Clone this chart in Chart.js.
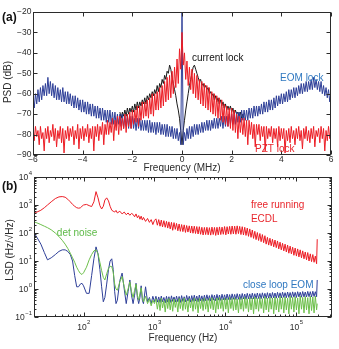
<!DOCTYPE html>
<html>
<head>
<meta charset="utf-8">
<script src="https://cdn.jsdelivr.net/npm/chart.js@4.4.1/dist/chart.umd.min.js"></script>
<style>
  body { margin: 0; background: #fff; }
  #wrap { position: relative; width: 339px; height: 349px; }
  canvas { position: absolute; left: 0; }
  #psd { top: 0; }
  #lsd { top: 170px; }
</style>
</head>
<body>
<div id="wrap">
  <canvas id="psd" width="339" height="178"></canvas>
  <canvas id="lsd" width="339" height="179"></canvas>
</div>
<script>
// ---- panel (a): beat note PSD, dB vs MHz ----
const freqA = [
  -6, -5.95, -5.9, -5.85, -5.8, -5.75, -5.7, -5.65, -5.6, -5.55,
  -5.5, -5.45, -5.4, -5.35, -5.3, -5.25, -5.2, -5.15, -5.1, -5.05,
  -5, -4.95, -4.9, -4.85, -4.8, -4.75, -4.7, -4.65, -4.6, -4.55,
  -4.5, -4.45, -4.4, -4.35, -4.3, -4.25, -4.2, -4.15, -4.1, -4.05,
  -4, -3.95, -3.9, -3.85, -3.8, -3.75, -3.7, -3.65, -3.6, -3.55,
  -3.5, -3.45, -3.4, -3.35, -3.3, -3.25, -3.2, -3.15, -3.1, -3.05,
  -3, -2.95, -2.9, -2.85, -2.8, -2.75, -2.7, -2.65, -2.6, -2.55,
  -2.5, -2.45, -2.4, -2.35, -2.3, -2.25, -2.2, -2.15, -2.1, -2.05,
  -2, -1.95, -1.9, -1.85, -1.8, -1.75, -1.7, -1.65, -1.6, -1.55,
  -1.5, -1.45, -1.4, -1.35, -1.3, -1.25, -1.2, -1.15, -1.1, -1.05,
  -1, -0.95, -0.9, -0.85, -0.8, -0.75, -0.7, -0.65, -0.6, -0.55,
  -0.5, -0.45, -0.4, -0.35, -0.3, -0.25, -0.2, -0.15, -0.1, -0.05,
  0,
  0.05, 0.1, 0.15, 0.2, 0.25, 0.3, 0.35, 0.4, 0.45, 0.5,
  0.55, 0.6, 0.65, 0.7, 0.75, 0.8, 0.85, 0.9, 0.95, 1,
  1.05, 1.1, 1.15, 1.2, 1.25, 1.3, 1.35, 1.4, 1.45, 1.5,
  1.55, 1.6, 1.65, 1.7, 1.75, 1.8, 1.85, 1.9, 1.95, 2,
  2.05, 2.1, 2.15, 2.2, 2.25, 2.3, 2.35, 2.4, 2.45, 2.5,
  2.55, 2.6, 2.65, 2.7, 2.75, 2.8, 2.85, 2.9, 2.95, 3,
  3.05, 3.1, 3.15, 3.2, 3.25, 3.3, 3.35, 3.4, 3.45, 3.5,
  3.55, 3.6, 3.65, 3.7, 3.75, 3.8, 3.85, 3.9, 3.95, 4,
  4.05, 4.1, 4.15, 4.2, 4.25, 4.3, 4.35, 4.4, 4.45, 4.5,
  4.55, 4.6, 4.65, 4.7, 4.75, 4.8, 4.85, 4.9, 4.95, 5,
  5.05, 5.1, 5.15, 5.2, 5.25, 5.3, 5.35, 5.4, 5.45, 5.5,
  5.55, 5.6, 5.65, 5.7, 5.75, 5.8, 5.85, 5.9, 5.95, 6
];
const eomLock = [
  -61, -67, -60, -65, -58, -64, -57, -63, -56, -61,
  -55, -61, -52, -60, -54, -61, -55, -62, -56, -63,
  -57, -63, -58, -64, -57, -64, -59, -65, -59, -65,
  -60, -66, -61, -67, -61, -67, -62, -68, -63, -69,
  -63, -69, -64, -70, -64, -70, -65, -71, -65, -71,
  -66, -72, -66, -72, -67, -73, -67, -73, -68, -74,
  -68, -74, -68, -75, -69, -75, -69, -76, -70, -75,
  -70, -76, -70, -77, -71, -76, -71, -77, -71, -77,
  -71, -77, -72, -78, -72, -77, -72, -78, -73, -78,
  -73, -78, -73, -79, -73, -79, -74, -79, -74, -80,
  -74, -79, -74, -80, -75, -80, -75, -81, -75, -81,
  -76, -81, -76, -82, -77, -82, -77, -83, -79, -85,
  -20,
  -85, -79, -83, -77, -82, -76, -82, -76, -81, -75,
  -80, -75, -80, -75, -79, -74, -79, -74, -78, -73,
  -78, -73, -78, -73, -77, -72, -77, -72, -77, -72,
  -76, -71, -77, -71, -76, -71, -76, -70, -75, -70,
  -75, -70, -75, -69, -74, -69, -74, -68, -73, -68,
  -73, -68, -73, -67, -72, -67, -72, -66, -71, -66,
  -71, -66, -70, -65, -70, -64, -69, -64, -69, -63,
  -68, -63, -68, -62, -67, -61, -66, -61, -65, -60,
  -65, -60, -64, -59, -64, -58, -63, -58, -62, -57,
  -62, -57, -61, -56, -60, -55, -60, -55, -59, -54,
  -59, -54, -58, -53, -58, -52, -57, -53, -58, -54,
  -59, -54, -60, -56, -61, -57, -62, -58, -64, -59
];
const pztLock = [
  -77, -83, -76, -81, -78, -85, -76, -82, -79, -88,
  -77, -82, -76, -84, -78, -81, -75, -83, -77, -86,
  -78, -82, -76, -84, -77, -89, -78, -82, -76, -83,
  -77, -81, -76, -85, -78, -82, -75, -87, -77, -82,
  -76, -83, -77, -81, -75, -84, -77, -82, -76, -88,
  -76, -81, -75, -83, -76, -80, -74, -85, -75, -80,
  -73, -80, -74, -79, -72, -83, -73, -78, -71, -80,
  -71, -78, -72, -77, -70, -79, -70, -76, -69, -77,
  -68, -75, -68, -74, -66, -76, -66, -73, -64, -72,
  -64, -71, -63, -72, -62, -70, -60, -71, -60, -68,
  -59, -68, -57, -67, -56, -66, -54, -64, -52, -63,
  -51, -62, -49, -60, -47, -57, -43, -55, -38, -48,
  -30,
  -46, -40, -53, -44, -56, -47, -58, -48, -60, -50,
  -62, -51, -63, -53, -65, -54, -66, -55, -67, -56,
  -68, -57, -69, -59, -70, -60, -71, -61, -72, -62,
  -73, -63, -74, -65, -75, -66, -76, -67, -77, -67,
  -78, -68, -79, -70, -82, -71, -79, -72, -80, -72,
  -81, -73, -85, -73, -80, -74, -82, -75, -86, -75,
  -80, -75, -83, -76, -81, -76, -88, -76, -82, -77,
  -81, -76, -84, -77, -82, -77, -86, -76, -83, -77,
  -82, -77, -89, -78, -83, -77, -84, -76, -82, -78,
  -85, -77, -82, -76, -83, -78, -87, -77, -82, -76,
  -83, -78, -84, -77, -82, -76, -86, -78, -81, -77,
  -84, -76, -82, -77, -88, -78, -83, -76, -82, -78
];
const currentLock = [
  null, null, null, null, null, null, null, null, null, null,
  null, null, null, null, null, null, null, null, null, null,
  null, null, null, null, null, null, null, null, null, null,
  null, null, null, null, null, null, null, null, null, null,
  null, null, null, null, null, null, null, null, null, null,
  null, null, null, null, null, null, null, null, null, null,
  null, null, null, null, null, null, null, null, null, null,
  -69, -72, -69, -71, -68, -71, -67, -70, -67, -69,
  -66, -69, -65, -68, -64, -67, -64, -66, -63, -65,
  -62, -65, -61, -63, -60, -62, -59, -61, -58, -60,
  -56, -59, -55, -57, -53, -55, -51, -53, -49, -50,
  -46, -48, -52, -55, -58, -61, -65, -68, -72, -78,
  -85,
  -78, -73, -68, -64, -60, -56, -53, -50, -47, -46,
  -48, -50, -52, -54, -53, -56, -55, -57, -56, -58,
  -57, -60, -59, -61, -60, -63, -61, -64, -62, -65,
  -63, -66, -64, -67, -65, -68, -66, -68, -66, -69,
  -67, -70, -68, -70, -69, -71, -69, -72, -70, -72,
  null, null, null, null, null, null, null, null, null, null,
  null, null, null, null, null, null, null, null, null, null,
  null, null, null, null, null, null, null, null, null, null,
  null, null, null, null, null, null, null, null, null, null,
  null, null, null, null, null, null, null, null, null, null,
  null, null, null, null, null, null, null, null, null, null,
  null, null, null, null, null, null, null, null, null, null
];
const ticksAx = [-6, -4, -2, 0, 2, 4, 6];
const ticksAy = [-90, -80, -70, -60, -50, -40, -30, -20];

// ---- panel (b): linewidth spectral density, Hz/sqrt(Hz) vs Hz ----
const freqB = [
  20, 22, 25, 28, 31, 35, 40, 45, 50,
  55, 60, 65, 70, 75, 80, 85, 90, 95, 100,
  110, 120, 130, 140, 150, 160, 170, 180, 190, 200,
  212, 225, 237, 250, 262, 275, 287, 300,
  325, 350, 375, 400, 425, 450, 475, 500,
  525, 550, 575, 600, 625, 650, 675, 700,
  750, 800, 850, 900, 950, 1000,
  1050, 1100, 1150, 1200, 1250, 1300, 1360, 1420, 1480, 1540,
  1600, 1670, 1740, 1810, 1890, 1970, 2050, 2140, 2230, 2320,
  2420, 2520, 2630, 2740, 2850, 2970, 3100, 3230, 3360, 3500,
  3650, 3800, 3960, 4130, 4300, 4480, 4670, 4860, 5070, 5280,
  5500, 5730, 5970, 6220, 6480, 6750, 7030, 7320, 7630, 7950,
  8280, 8630, 8990, 9370, 9760, 10170, 10600, 11040, 11500, 11980,
  12480, 13000, 13550, 14110, 14700, 15320, 15960, 16630, 17320, 18040,
  18800, 19580, 20400, 21250, 22140, 23070, 24030, 25040, 26080, 27170,
  28310, 29490, 30720, 32000, 33340, 34740, 36190, 37700, 39280, 40920,
  42630, 44410, 46270, 48200, 50220, 52320, 54510, 56790, 59160, 61630,
  64210, 66890, 69690, 72600, 75640, 78800, 82090, 85520, 89100, 92820,
  96700, 100700, 104900, 109300, 113900, 118700, 123600, 128800, 134200, 139800,
  145600, 151700, 158100, 164700, 171600, 178700, 186200, 194000, 198000
];
const freeRunning = [
  500, 560, 650, 800, 1000, 1300, 1700, 1950, 2000,
  1900, 1600, 1300, 1050, 900, 800, 770, 790, 900, 1000,
  1050, 950, 880, 1300, 3000, 1800, 950, 720, 900, 1500,
  1800, 1400, 900, 650, 600, 560, 640, 520,
  600, 480, 560, 450, 520, 430, 500, 460,
  380, 480, 350, 420, 310, 400, 290, 360,
  260, 330, 240, 300, 200, 280,
  320, 190, 300, 175, 290, 165, 275, 160, 260, 150,
  250, 140, 240, 125, 235, 135, 220, 120, 210, 115,
  200, 112, 195, 105, 185, 108, 180, 100, 178, 98,
  175, 96, 170, 92, 168, 90, 160, 85, 158, 88,
  160, 86, 155, 84, 162, 88, 158, 82, 160, 86,
  165, 88, 162, 90, 170, 86, 168, 92, 172, 90,
  178, 93, 175, 90, 180, 95, 172, 88, 168, 85,
  160, 82, 150, 76, 140, 70, 128, 64, 115, 58,
  104, 54, 96, 49, 88, 45, 80, 40, 70, 37,
  65, 35, 60, 32, 56, 30, 52, 27, 47, 25,
  43, 23, 40, 21, 37, 19, 34, 18, 31, 16,
  29, 15, 27, 14, 25, 13, 23, 12, 21, 11,
  20, 10, 18, 9.5, 17, 9, 15, 8, 60
];
const detNoise = [
  250, 230, 200, 175, 155, 130, 100, 75, 55,
  40, 28, 19, 13, 9, 6, 4.5, 3.6, 3.3, 3.8,
  6, 11, 17, 23, 25, 18, 9, 4.5, 2.6, 2.1,
  3.5, 5.5, 6.5, 6.3, 4, 1.5, 1.0, 0.9,
  1.8, 2.8, 1.2, 0.6, 1.0, 1.8, 0.8, 0.5,
  0.9, 1.5, 0.6, 0.4, 0.7, 1.1, 0.5, 0.35,
  0.55, 0.3, 0.45, 0.25, 0.4, 0.3,
  0.45, 0.19, 0.4, 0.17, 0.47, 0.21, 0.38, 0.15, 0.43, 0.2,
  0.46, 0.18, 0.41, 0.16, 0.44, 0.22, 0.39, 0.15, 0.46, 0.2,
  0.42, 0.17, 0.48, 0.19, 0.4, 0.15, 0.45, 0.21, 0.41, 0.16,
  0.47, 0.19, 0.42, 0.14, 0.46, 0.2, 0.43, 0.17, 0.48, 0.19,
  0.42, 0.15, 0.46, 0.2, 0.49, 0.18, 0.43, 0.14, 0.47, 0.19,
  0.5, 0.2, 0.44, 0.16, 0.48, 0.19, 0.45, 0.14, 0.5, 0.2,
  0.46, 0.17, 0.49, 0.18, 0.44, 0.14, 0.5, 0.19, 0.46, 0.16,
  0.51, 0.2, 0.45, 0.15, 0.49, 0.18, 0.47, 0.13, 0.52, 0.19,
  0.46, 0.16, 0.5, 0.2, 0.45, 0.14, 0.53, 0.18, 0.47, 0.15,
  0.51, 0.19, 0.48, 0.13, 0.52, 0.18, 0.46, 0.15, 0.54, 0.19,
  0.49, 0.14, 0.52, 0.18, 0.47, 0.13, 0.55, 0.19, 0.5, 0.15,
  0.53, 0.18, 0.48, 0.13, 0.56, 0.19, 0.5, 0.14, 0.54, 0.18,
  0.49, 0.13, 0.55, 0.17, 0.52, 0.14, 0.56, 0.18, 0.3
];
const closeLoop = [
  100, 70, 40, 20, 11, 13, 17, 22, 25,
  25, 22, 17, 10, 3, 1.2, 1.2, 1.5, 1.6, 1.3,
  0.7, 0.7, 3, 12, 32, 18, 5, 1.2, 0.35, 0.5,
  1.5, 5, 10, 12, 5, 0.8, 0.3, 0.4,
  2, 3.7, 1, 0.3, 0.8, 2.1, 0.6, 0.3,
  0.6, 1.6, 0.5, 0.3, 0.5, 1.3, 0.4, 0.3,
  1.2, 0.35, 0.5, 0.3, 0.55, 0.35,
  0.55, 0.34, 0.52, 0.33, 0.56, 0.35, 0.5, 0.32, 0.55, 0.34,
  0.53, 0.33, 0.57, 0.36, 0.52, 0.34, 0.56, 0.35, 0.54, 0.33,
  0.58, 0.36, 0.53, 0.35, 0.59, 0.37, 0.55, 0.34, 0.58, 0.36,
  0.6, 0.37, 0.56, 0.35, 0.61, 0.38, 0.57, 0.36, 0.6, 0.38,
  0.62, 0.39, 0.58, 0.37, 0.63, 0.4, 0.6, 0.38, 0.64, 0.4,
  0.61, 0.39, 0.65, 0.41, 0.62, 0.4, 0.66, 0.42, 0.63, 0.41,
  0.67, 0.43, 0.64, 0.42, 0.68, 0.43, 0.65, 0.42, 0.69, 0.44,
  0.66, 0.43, 0.7, 0.45, 0.67, 0.44, 0.71, 0.45, 0.68, 0.45,
  0.72, 0.46, 0.69, 0.45, 0.73, 0.47, 0.7, 0.46, 0.74, 0.47,
  0.71, 0.47, 0.75, 0.48, 0.72, 0.47, 0.76, 0.49, 0.73, 0.48,
  0.77, 0.5, 0.74, 0.49, 0.78, 0.5, 0.75, 0.5, 0.79, 0.51,
  0.76, 0.5, 0.8, 0.52, 0.77, 0.51, 0.81, 0.52, 0.78, 0.52,
  0.82, 0.53, 0.8, 0.52, 0.83, 0.54, 0.8, 0.53, 2.1
];
const expBx = [2, 3, 4, 5];
const expBy = [-1, 0, 1, 2, 3, 4];

const RED = '#ec1c24', BLUE = '#2e3f98', GREEN = '#6cbf4a', BLACK = '#1a1a1a';
const INK = '#2b2b2b';
const FONT = '"Liberation Sans", Arial, sans-serif';

function pts(xs, ys) {
  return xs.map((v, i) => ({ x: v, y: ys[i] }));
}

function line(label, xs, ys, color) {
  return { label, data: pts(xs, ys), borderColor: color, borderWidth: 1, pointRadius: 0, tension: 0, spanGaps: false };
}

function label(ctx, s, x, y, size, color, align, bold) {
  ctx.font = (bold ? 'bold ' : '') + size + 'px ' + FONT;
  ctx.fillStyle = color;
  ctx.textAlign = align || 'left';
  ctx.textBaseline = 'middle';
  ctx.fillText(s, x, y);
}

function box(chart, xMajor, yMajor, xMinor, yMinor) {
  const { ctx, chartArea: a, scales: { x, y } } = chart;
  const L = Math.round(a.left) + 0.5, R = Math.round(a.right) - 0.5;
  const T = Math.round(a.top) + 0.5, B = Math.round(a.bottom) - 0.5;
  ctx.save();
  ctx.strokeStyle = INK;
  ctx.lineWidth = 1;
  ctx.beginPath();
  const xt = (v, len) => {
    const p = Math.round(x.getPixelForValue(v)) + 0.5;
    ctx.moveTo(p, B); ctx.lineTo(p, B - len);
    ctx.moveTo(p, T); ctx.lineTo(p, T + len);
  };
  const yt = (v, len) => {
    const p = Math.round(y.getPixelForValue(v)) + 0.5;
    ctx.moveTo(L, p); ctx.lineTo(L + len, p);
    ctx.moveTo(R, p); ctx.lineTo(R - len, p);
  };
  xMajor.forEach(v => xt(v, 4));
  yMajor.forEach(v => yt(v, 4));
  xMinor.forEach(v => xt(v, 2));
  yMinor.forEach(v => yt(v, 2));
  ctx.stroke();
  ctx.strokeRect(L, T, R - L, B - T);
  ctx.restore();
  return { L, R, T, B };
}

function minorLog(min, max) {
  const out = [];
  for (let e = Math.floor(Math.log10(min)); e <= Math.ceil(Math.log10(max)); e++) {
    for (let m = 2; m <= 9; m++) {
      const v = m * Math.pow(10, e);
      if (v > min && v < max) out.push(v);
    }
  }
  return out;
}

function minusText(v) {
  return v < 0 ? '\u2212' + Math.abs(v) : String(v);
}

const axesA = {
  id: 'axesA',
  afterDraw(chart) {
    const { ctx, scales: { x, y } } = chart;
    const f = box(chart, ticksAx, ticksAy, [], []);
    ctx.save();
    ticksAx.forEach(v => label(ctx, minusText(v), x.getPixelForValue(v), f.B + 5, 8.5, INK, 'center'));
    ticksAy.forEach(v => label(ctx, minusText(v), f.L - 2, y.getPixelForValue(v), 8.5, INK, 'right'));
    label(ctx, 'Frequency (MHz)', (f.L + f.R) / 2, 168, 10, INK, 'center');
    ctx.save();
    ctx.translate(8, 82);
    ctx.rotate(-Math.PI / 2);
    label(ctx, 'PSD (dB)', 0, 0, 10, INK, 'center');
    ctx.restore();
    label(ctx, '(a)', 2, 18, 12, '#111', 'left', true);
    label(ctx, 'current lock', x.getPixelForValue(0.4), y.getPixelForValue(-42.5), 10, '#111');
    label(ctx, 'EOM lock', x.getPixelForValue(3.95), y.getPixelForValue(-52.3), 10, '#2f78c0');
    label(ctx, 'PZT lock', x.getPixelForValue(2.94), y.getPixelForValue(-87.3), 10, '#e8262c');
    ctx.restore();
  }
};

function pow10(ctx, e, x, y, align) {
  ctx.font = '8.5px ' + FONT;
  const w10 = ctx.measureText('10').width;
  ctx.font = '6px ' + FONT;
  const es = minusText(e);
  const we = ctx.measureText(es).width;
  const left = align === 'center' ? x - (w10 + we) / 2 : x - (w10 + we);
  label(ctx, '10', left, y, 8.5, INK, 'left');
  label(ctx, es, left + w10 + 0.5, y - 5, 6, INK, 'left');
}

const axesB = {
  id: 'axesB',
  afterDraw(chart) {
    const { ctx, scales: { x, y } } = chart;
    const f = box(chart, expBx.map(e => Math.pow(10, e)), expBy.map(e => Math.pow(10, e)),
      minorLog(x.min, x.max), minorLog(y.min, y.max));
    ctx.save();
    expBx.forEach(e => pow10(ctx, e, x.getPixelForValue(Math.pow(10, e)), f.B + 11, 'center'));
    expBy.forEach(e => pow10(ctx, e, f.L - 3, y.getPixelForValue(Math.pow(10, e)) + 1, 'right'));
    label(ctx, 'Frequency (Hz)', (f.L + f.R) / 2, 168, 10, INK, 'center');
    ctx.save();
    ctx.translate(10, 80);
    ctx.rotate(-Math.PI / 2);
    label(ctx, 'LSD (Hz/\u221AHz)', 0, 0, 10, INK, 'center');
    ctx.restore();
    label(ctx, '(b)', 2, 17, 12, '#111', 'left', true);
    label(ctx, 'free running', x.getPixelForValue(23000), y.getPixelForValue(1000), 10, '#e8262c');
    label(ctx, 'ECDL', x.getPixelForValue(23000), y.getPixelForValue(316), 10, '#e8262c');
    label(ctx, 'det noise', x.getPixelForValue(42), y.getPixelForValue(100), 10, '#5dba47');
    label(ctx, 'close loop EOM', x.getPixelForValue(17700), y.getPixelForValue(1.39), 10, '#2f78c0');
    ctx.restore();
  }
};

const common = {
  responsive: false,
  animation: false,
  devicePixelRatio: 1,
  events: [],
  plugins: { legend: { display: false }, tooltip: { enabled: false } }
};

new Chart(document.getElementById('psd'), {
  type: 'line',
  data: {
    datasets: [
      line('PZT lock', freqA, pztLock, RED),
      line('EOM lock', freqA, eomLock, BLUE),
      line('current lock', freqA, currentLock, BLACK)
    ]
  },
  options: Object.assign({}, common, {
    layout: { padding: { left: 33, right: 8, top: 12, bottom: 23 } },
    scales: {
      x: { type: 'linear', min: -6, max: 6, bounds: 'data', display: false },
      y: { type: 'linear', min: -90, max: -20, bounds: 'data', display: false }
    }
  }),
  plugins: [axesA]
});

new Chart(document.getElementById('lsd'), {
  type: 'line',
  data: {
    datasets: [
      line('det noise', freqB, detNoise, GREEN),
      line('close loop EOM', freqB, closeLoop, BLUE),
      line('free running ECDL', freqB, freeRunning, RED)
    ]
  },
  options: Object.assign({}, common, {
    layout: { padding: { left: 34, right: 7, top: 7, bottom: 32 } },
    scales: {
      x: { type: 'logarithmic', min: 20, max: 320000, bounds: 'data', display: false },
      y: { type: 'logarithmic', min: 0.1, max: 10000, bounds: 'data', display: false }
    }
  }),
  plugins: [axesB]
});
</script>
</body>
</html>
